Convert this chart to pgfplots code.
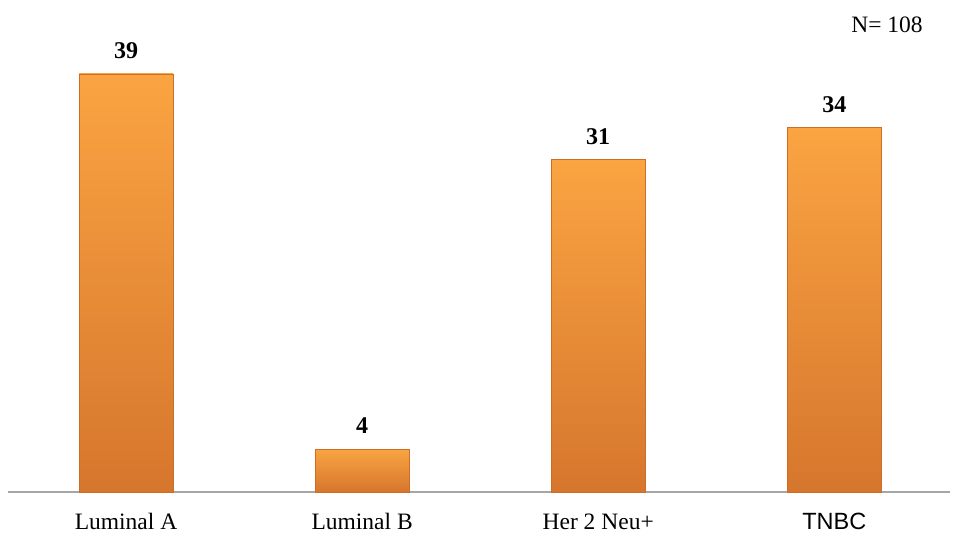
\documentclass[border=0pt]{standalone}
\usepackage{fontspec}
\setmainfont{Liberation Serif}
\setsansfont{Liberation Sans}
\usepackage{pgfplots}
\pgfplotsset{compat=1.18}
\definecolor{bartop}{HTML}{FAA442}
\definecolor{barbot}{HTML}{D6762D}
\definecolor{baredge}{HTML}{CC6E2A}
\definecolor{axisgray}{HTML}{A6A6A6}
\tikzset{barstyle/.style={draw=baredge, line width=0.5pt, top color=bartop, bottom color=barbot}}

\begin{document}
\begin{tikzpicture}
\path[use as bounding box] (-8pt,-52pt) rectangle (948pt,492pt);
\begin{axis}[
  at={(0pt,0pt)}, anchor=south west, scale only axis,
  width=942pt, height=492pt,
  xmin=-0.5, xmax=3.49, ymin=0, ymax=45.9,
  axis x line*=bottom, axis y line=none,
  x axis line style={-, axisgray, line width=1.2pt},
  ybar, bar width=94pt, bar shift=0pt,
  xtick={0,1,2,3},
  xticklabels={Luminal A, Luminal B, Her 2 Neu+, {\sffamily TNBC}},
  major tick length=0pt,
  xticklabel style={font=\fontsize{23.5}{28}\selectfont, anchor=base, yshift=-37pt, inner sep=0pt},
  /pgf/number format/assume math mode=true,
  nodes near coords,
  nodes near coords style={font=\fontsize{24}{28}\selectfont\bfseries, text=black, anchor=south, inner sep=0pt, yshift=15pt},
  clip=false]
  \addplot[barstyle] coordinates {(0,39)};
  \addplot[barstyle] coordinates {(1,4)};
  \addplot[barstyle] coordinates {(2,31)};
  \addplot[barstyle] coordinates {(3,34)};
\end{axis}
\node[font=\fontsize{23.5}{28}\selectfont, anchor=base, inner sep=0pt] at (879pt,459pt) {N= 108};
\end{tikzpicture}
\end{document}
